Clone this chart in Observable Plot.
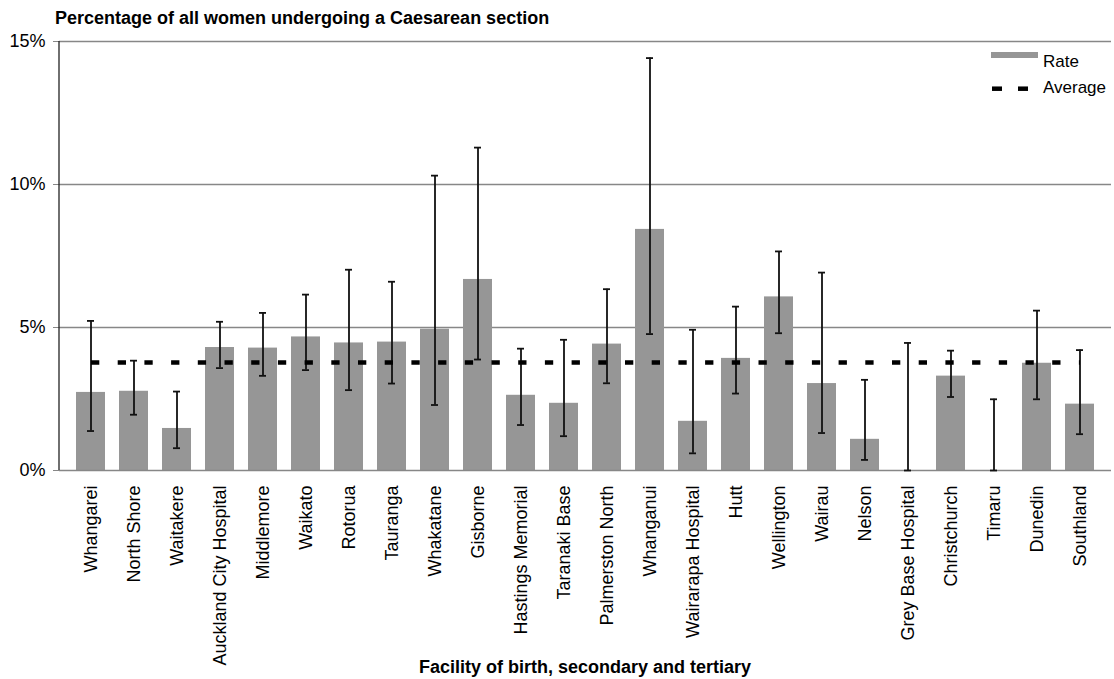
<!DOCTYPE html>
<html>
<head>
<meta charset="utf-8">
<script src="https://cdn.jsdelivr.net/npm/d3@7"></script>
<script src="https://cdn.jsdelivr.net/npm/@observablehq/plot@0.6"></script>
<style>
  body { margin: 0; background: #fff; }
  #chart { position: relative; width: 1114px; height: 679px; }
</style>
</head>
<body>
<div id="chart"></div>
<script>
const categories = ["Whangarei", "North Shore", "Waitakere", "Auckland City Hospital", "Middlemore", "Waikato", "Rotorua", "Tauranga", "Whakatane", "Gisborne", "Hastings Memorial", "Taranaki Base", "Palmerston North", "Whanganui", "Wairarapa Hospital", "Hutt", "Wellington", "Wairau", "Nelson", "Grey Base Hospital", "Christchurch", "Timaru", "Dunedin", "Southland"];
const rates = [2.73, 2.77, 1.47, 4.30, 4.28, 4.67, 4.46, 4.49, 4.94, 6.68, 2.63, 2.35, 4.42, 8.43, 1.72, 3.92, 6.07, 3.04, 1.09, 0, 3.30, 0, 3.75, 2.32];
const lower = [1.38, 1.95, 0.78, 3.58, 3.31, 3.51, 2.81, 3.04, 2.29, 3.88, 1.59, 1.20, 3.05, 4.77, 0.60, 2.69, 4.80, 1.31, 0.37, 0, 2.57, 0, 2.49, 1.27];
const upper = [5.23, 3.84, 2.76, 5.20, 5.51, 6.15, 7.02, 6.60, 10.31, 11.29, 4.26, 4.57, 6.34, 14.42, 4.92, 5.73, 7.66, 6.92, 3.17, 4.46, 4.19, 2.49, 5.59, 4.21];
const average = 3.78;
const yTicks = [0, 5, 10, 15];

const data = categories.map((c, i) => ({facility: c, rate: rates[i], lo: lower[i], hi: upper[i], avg: average}));

const font = "'Liberation Sans', Arial, sans-serif";
const barColor = "#969696";
const gridColor = "#878787";

const chart = Plot.plot({
  width: 1114,
  height: 679,
  marginLeft: 59,
  marginRight: 3,
  marginTop: 41,
  marginBottom: 209,
  style: {fontFamily: font, fontSize: "18px", color: "#000", background: "#fff"},
  x: {domain: categories, paddingInner: 0.316, paddingOuter: 0.158, label: null},
  y: {domain: [0, 15], label: null},
  marks: [
    Plot.gridY(yTicks.filter(d => d > 0), {stroke: gridColor, strokeOpacity: 1, strokeWidth: 1.3}),
    Plot.barY(data, {x: "facility", y: "rate", fill: barColor}),
    Plot.ruleY([0], {stroke: gridColor, strokeWidth: 1.5}),
    Plot.ruleX(data, {x: "facility", y1: "lo", y2: "hi", stroke: "#111", strokeWidth: 1.8}),
    Plot.tickY(data, {x: "facility", y: "lo", stroke: "#111", strokeWidth: 1.8, insetLeft: 11, insetRight: 11}),
    Plot.tickY(data, {x: "facility", y: "hi", stroke: "#111", strokeWidth: 1.8, insetLeft: 11, insetRight: 11}),
    Plot.lineY(data, {x: "facility", y: "avg", stroke: "#000", strokeWidth: 4.5, strokeDasharray: "8.3,18.4", strokeLinecap: "butt"}),
    Plot.axisY({ticks: yTicks, tickFormat: d => d + "%", tickSize: 6, tickPadding: 8, stroke: gridColor, fontSize: 18, label: null}),
    Plot.axisX({tickRotate: -90, tickSize: 0, tickPadding: 15, fontSize: 18, label: null})
  ]
});

document.getElementById("chart").appendChild(chart);

const svg = d3.select(chart);
const ys = chart.scale("y");
// y axis line
svg.append("line")
  .attr("x1", 59).attr("x2", 59)
  .attr("y1", ys.apply(0)).attr("y2", ys.apply(15))
  .attr("stroke", "#222").attr("stroke-width", 1.3);

// title
svg.append("text")
  .attr("x", 55).attr("y", 24)
  .attr("text-anchor", "start")
  .attr("font-family", font).attr("font-size", 18).attr("font-weight", "bold").attr("fill", "#000")
  .text("Percentage of all women undergoing a Caesarean section");

// x-axis title
svg.append("text")
  .attr("x", 585).attr("y", 673)
  .attr("text-anchor", "middle")
  .attr("font-family", font).attr("font-size", 18).attr("font-weight", "bold").attr("fill", "#000")
  .text("Facility of birth, secondary and tertiary");

// legend
const lg = svg.append("g").attr("font-family", font).attr("font-size", 17).attr("fill", "#000").attr("text-anchor", "start");
lg.append("rect").attr("x", 991).attr("y", 52).attr("width", 47).attr("height", 6).attr("fill", barColor);
lg.append("text").attr("x", 1043).attr("y", 66.5).attr("text-anchor", "start").text("Rate");
lg.append("line").attr("x1", 992).attr("x2", 1002).attr("y1", 88.7).attr("y2", 88.7).attr("stroke", "#000").attr("stroke-width", 4.5);
lg.append("line").attr("x1", 1018).attr("x2", 1028).attr("y1", 88.7).attr("y2", 88.7).attr("stroke", "#000").attr("stroke-width", 4.5);
lg.append("text").attr("x", 1043).attr("y", 93.3).attr("text-anchor", "start").text("Average");
</script>
</body>
</html>
